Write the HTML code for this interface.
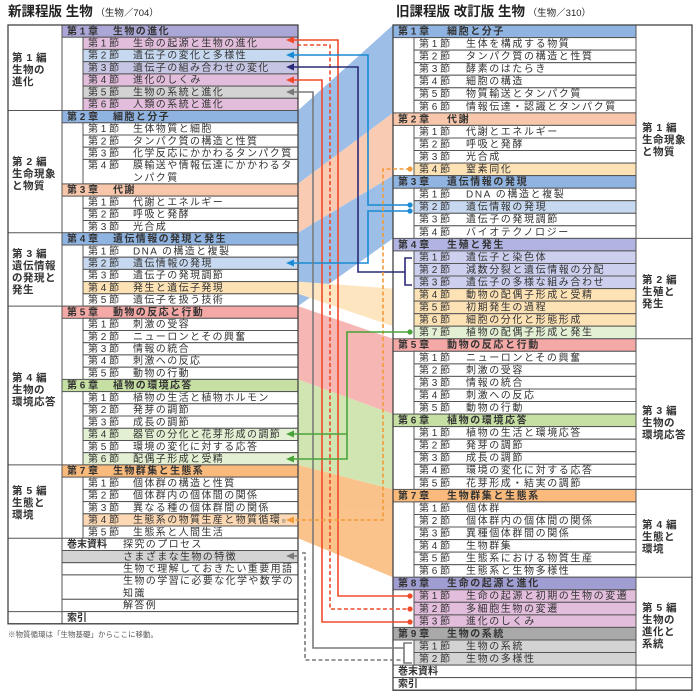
<!DOCTYPE html>
<html><head><meta charset="utf-8"><style>
html,body{margin:0;padding:0;background:#fff;}
svg{display:block;}
text{font-family:"Liberation Sans","Noto Sans CJK JP",sans-serif;fill:#333;}
.t{font-size:10px;letter-spacing:1.4px;}
.rt{font-size:10px;letter-spacing:1.6px;}
.lb{font-size:10px;}
.h{font-weight:bold;}
.k{font-size:10.5px;letter-spacing:0.5px;font-weight:bold;fill:#333;}
.b{stroke:#555;stroke-width:1;}
</style></head><body>
<svg width="700" height="700" viewBox="0 0 700 700" xmlns="http://www.w3.org/2000/svg">
<text x="8" y="16" style="font-size:13.5px;font-weight:bold;fill:#222">新課程版 生物<tspan style="font-size:9.5px;font-weight:normal"> （生物／704）</tspan></text>
<text x="396" y="16" style="font-size:13.5px;font-weight:bold;fill:#222">旧課程版 改訂版 生物<tspan style="font-size:9.5px;font-weight:normal"> （生物／310）</tspan></text>

<g opacity="0.85">
<polygon points="298,110.5 393,25 393,112.9 298,183.9" fill="#8db4e3"/>
<polygon points="298,183.9 393,112.9 393,175.6 298,232.7" fill="#f8c3a6"/>
<polygon points="298,232.7 393,175.6 393,238.4 298,306.1" fill="#8db4e3"/>
<polygon points="298,281.6 393,288.6 393,326.2 298,293.8" fill="#fde2b5"/>
<polygon points="298,306.1 393,338.8 393,414.1 298,379.4" fill="#f4aaa8"/>
<polygon points="298,379.4 393,414.1 393,489.4 298,464.9" fill="#c9e1a5"/>
<polygon points="298,464.9 393,489.4 393,577.2 298,538.2" fill="#f9b877"/>
</g>

<g class="b" fill="#fff">
<rect x="8" y="25" width="290" height="598.8" fill="#fff"/>
<rect x="62" y="25" width="236" height="12.2" fill="#aaa7d6"/>
<rect x="83" y="37.2" width="215" height="12.2" fill="#e2bddc"/>
<rect x="83" y="49.4" width="215" height="12.3" fill="#c7d9f0"/>
<rect x="83" y="61.7" width="215" height="12.2" fill="#c6c6e4"/>
<rect x="83" y="73.9" width="215" height="12.2" fill="#e2bddc"/>
<rect x="83" y="86.1" width="215" height="12.2" fill="#d3d3d3"/>
<rect x="83" y="98.3" width="215" height="12.2" fill="#e2bddc"/>
<rect x="62" y="110.5" width="236" height="12.3" fill="#8fb4e2"/>
<rect x="83" y="122.8" width="215" height="12.2"/>
<rect x="83" y="135.0" width="215" height="12.2"/>
<rect x="83" y="147.2" width="215" height="12.2"/>
<rect x="83" y="159.4" width="215" height="24.5"/>
<rect x="62" y="183.9" width="236" height="12.2" fill="#f8c6aa"/>
<rect x="83" y="196.1" width="215" height="12.2"/>
<rect x="83" y="208.3" width="215" height="12.2"/>
<rect x="83" y="220.5" width="215" height="12.2"/>
<rect x="62" y="232.7" width="236" height="12.3" fill="#8fb4e2"/>
<rect x="83" y="245.0" width="215" height="12.2"/>
<rect x="83" y="257.2" width="215" height="12.2" fill="#c7d9f0"/>
<rect x="83" y="269.4" width="215" height="12.2"/>
<rect x="83" y="281.6" width="215" height="12.2" fill="#fde2b5"/>
<rect x="83" y="293.8" width="215" height="12.3"/>
<rect x="62" y="306.1" width="236" height="12.2" fill="#f5a9a6"/>
<rect x="83" y="318.3" width="215" height="12.2"/>
<rect x="83" y="330.5" width="215" height="12.2"/>
<rect x="83" y="342.7" width="215" height="12.2"/>
<rect x="83" y="354.9" width="215" height="12.3"/>
<rect x="83" y="367.2" width="215" height="12.2"/>
<rect x="62" y="379.4" width="236" height="12.2" fill="#c6e0a3"/>
<rect x="83" y="391.6" width="215" height="12.2"/>
<rect x="83" y="403.8" width="215" height="12.2"/>
<rect x="83" y="416.0" width="215" height="12.3"/>
<rect x="83" y="428.3" width="215" height="12.2" fill="#e3f0d3"/>
<rect x="83" y="440.5" width="215" height="12.2"/>
<rect x="83" y="452.7" width="215" height="12.2" fill="#e3f0d3"/>
<rect x="62" y="464.9" width="236" height="12.2" fill="#f9ba7c"/>
<rect x="83" y="477.1" width="215" height="12.3"/>
<rect x="83" y="489.4" width="215" height="12.2"/>
<rect x="83" y="501.6" width="215" height="12.2"/>
<rect x="83" y="513.8" width="215" height="12.2" fill="#fcd9b4"/>
<rect x="83" y="526.0" width="215" height="12.2"/>
<rect x="62" y="538.2" width="236" height="12.3"/>
<rect x="62" y="550.5" width="236" height="12.2" fill="#d3d3d3"/>
<rect x="62" y="562.7" width="236" height="12.2"/>
<rect x="62" y="574.9" width="236" height="24.4"/>
<rect x="62" y="599.3" width="236" height="12.3"/>
<rect x="62" y="611.6" width="236" height="12.2"/>
<line x1="62" y1="25" x2="62" y2="623.8"/>
<line x1="8" y1="110.5" x2="62" y2="110.5"/>
<line x1="8" y1="232.7" x2="62" y2="232.7"/>
<line x1="8" y1="306.1" x2="62" y2="306.1"/>
<line x1="8" y1="464.9" x2="62" y2="464.9"/>
<line x1="8" y1="538.2" x2="62" y2="538.2"/>
<line x1="8" y1="611.6" x2="62" y2="611.6"/>
</g>
<rect x="8" y="25" width="290" height="598.8" fill="none" stroke="#444" stroke-width="1.3"/>

<g class="k">
<text x="12" y="61">第 1 編</text><text x="12" y="73">生物の</text><text x="12" y="85">進化</text>
<text x="12" y="165">第 2 編</text><text x="12" y="177">生命現象</text><text x="12" y="189">と物質</text>
<text x="12" y="257">第 3 編</text><text x="12" y="269">遺伝情報</text><text x="12" y="281">の発現と</text><text x="12" y="293">発生</text>
<text x="12" y="381">第 4 編</text><text x="12" y="393">生物の</text><text x="12" y="405">環境応答</text>
<text x="12" y="494">第 5 編</text><text x="12" y="506">生態と</text><text x="12" y="518">環境</text>
</g>

<g>
<text x="67" y="34.3" class="lb h">第 1 章</text><text x="113" y="34.3" class="t h">生物の進化</text>
<text x="67" y="119.8" class="lb h">第 2 章</text><text x="113" y="119.8" class="t h">細胞と分子</text>
<text x="67" y="193.2" class="lb h">第 3 章</text><text x="113" y="193.2" class="t h">代謝</text>
<text x="67" y="242" class="lb h">第 4 章</text><text x="113" y="242" class="t h">遺伝情報の発現と発生</text>
<text x="67" y="315.4" class="lb h">第 5 章</text><text x="113" y="315.4" class="t h">動物の反応と行動</text>
<text x="67" y="388.7" class="lb h">第 6 章</text><text x="113" y="388.7" class="t h">植物の環境応答</text>
<text x="67" y="474.2" class="lb h">第 7 章</text><text x="113" y="474.2" class="t h">生物群集と生態系</text>
</g>
<g>
<text x="88" y="46.5" class="lb">第 1 節</text><text x="133" y="46.5" class="t">生命の起源と生物の進化</text>
<text x="88" y="58.7" class="lb">第 2 節</text><text x="133" y="58.7" class="t">遺伝子の変化と多様性</text>
<text x="88" y="71" class="lb">第 3 節</text><text x="133" y="71" class="t">遺伝子の組み合わせの変化</text>
<text x="88" y="83.2" class="lb">第 4 節</text><text x="133" y="83.2" class="t">進化のしくみ</text>
<text x="88" y="95.4" class="lb">第 5 節</text><text x="133" y="95.4" class="t">生物の系統と進化</text>
<text x="88" y="107.6" class="lb">第 6 節</text><text x="133" y="107.6" class="t">人類の系統と進化</text>

<text x="88" y="132.1" class="lb">第 1 節</text><text x="133" y="132.1" class="t">生体物質と細胞</text>
<text x="88" y="144.3" class="lb">第 2 節</text><text x="133" y="144.3" class="t">タンパク質の構造と性質</text>
<text x="88" y="156.5" class="lb">第 3 節</text><text x="133" y="156.5" class="t">化学反応にかかわるタンパク質</text>
<text x="88" y="168.7" class="lb">第 4 節</text><text x="133" y="168.7" class="t">膜輸送や情報伝達にかかわるタ</text><text x="133" y="180.9" class="t">ンパク質</text>

<text x="88" y="205.4" class="lb">第 1 節</text><text x="133" y="205.4" class="t">代謝とエネルギー</text>
<text x="88" y="217.6" class="lb">第 2 節</text><text x="133" y="217.6" class="t">呼吸と発酵</text>
<text x="88" y="229.8" class="lb">第 3 節</text><text x="133" y="229.8" class="t">光合成</text>

<text x="88" y="254.3" class="lb">第 1 節</text><text x="133" y="254.3" class="t">DNA の構造と複製</text>
<text x="88" y="266.5" class="lb">第 2 節</text><text x="133" y="266.5" class="t">遺伝情報の発現</text>
<text x="88" y="278.7" class="lb">第 3 節</text><text x="133" y="278.7" class="t">遺伝子の発現調節</text>
<text x="88" y="290.9" class="lb">第 4 節</text><text x="133" y="290.9" class="t">発生と遺伝子発現</text>
<text x="88" y="303.1" class="lb">第 5 節</text><text x="133" y="303.1" class="t">遺伝子を扱う技術</text>

<text x="88" y="327.6" class="lb">第 1 節</text><text x="133" y="327.6" class="t">刺激の受容</text>
<text x="88" y="339.8" class="lb">第 2 節</text><text x="133" y="339.8" class="t">ニューロンとその興奮</text>
<text x="88" y="352" class="lb">第 3 節</text><text x="133" y="352" class="t">情報の統合</text>
<text x="88" y="364.2" class="lb">第 4 節</text><text x="133" y="364.2" class="t">刺激への反応</text>
<text x="88" y="376.5" class="lb">第 5 節</text><text x="133" y="376.5" class="t">動物の行動</text>

<text x="88" y="400.9" class="lb">第 1 節</text><text x="133" y="400.9" class="t">植物の生活と植物ホルモン</text>
<text x="88" y="413.1" class="lb">第 2 節</text><text x="133" y="413.1" class="t">発芽の調節</text>
<text x="88" y="425.3" class="lb">第 3 節</text><text x="133" y="425.3" class="t">成長の調節</text>
<text x="88" y="437.6" class="lb">第 4 節</text><text x="133" y="437.6" class="t">器官の分化と花芽形成の調節</text>
<text x="88" y="449.8" class="lb">第 5 節</text><text x="133" y="449.8" class="t">環境の変化に対する応答</text>
<text x="88" y="462" class="lb">第 6 節</text><text x="133" y="462" class="t">配偶子形成と受精</text>

<text x="88" y="486.4" class="lb">第 1 節</text><text x="133" y="486.4" class="t">個体群の構造と性質</text>
<text x="88" y="498.7" class="lb">第 2 節</text><text x="133" y="498.7" class="t">個体群内の個体間の関係</text>
<text x="88" y="510.9" class="lb">第 3 節</text><text x="133" y="510.9" class="t">異なる種の個体群間の関係</text>
<text x="88" y="523.1" class="lb">第 4 節</text><text x="133" y="523.1" class="t">生態系の物質生産と物質循環<tspan style="font-size:5px;letter-spacing:0">※</tspan></text>
<text x="88" y="535.3" class="lb">第 5 節</text><text x="133" y="535.3" class="t">生態系と人間生活</text>

<text x="67" y="547.5" class="lb h">巻末資料</text><text x="123" y="547.5" class="t">探究のプロセス</text>
<text x="123" y="559.8" class="t">さまざまな生物の特徴</text>
<text x="123" y="572" class="t">生物で理解しておきたい重要用語</text>
<text x="123" y="584.2" class="t">生物の学習に必要な化学や数学の</text>
<text x="123" y="596.4" class="t">知識</text>
<text x="123" y="608.6" class="t">解答例</text>
<text x="67" y="620.9" class="lb h">索引</text>
</g>
<text x="8" y="637" style="font-size:7.5px;fill:#555">※物質循環は「生物基礎」からここに移動。</text>

<g class="b" fill="#fff">
<rect x="393" y="25" width="299" height="665.2"/>
<rect x="393" y="25" width="243" height="12.6" fill="#8fb4e2"/>
<rect x="414" y="37.6" width="222" height="12.5"/>
<rect x="414" y="50.1" width="222" height="12.6"/>
<rect x="414" y="62.7" width="222" height="12.5"/>
<rect x="414" y="75.2" width="222" height="12.6"/>
<rect x="414" y="87.8" width="222" height="12.5"/>
<rect x="414" y="100.3" width="222" height="12.6"/>
<rect x="393" y="112.9" width="243" height="12.5" fill="#f8c6aa"/>
<rect x="414" y="125.4" width="222" height="12.6"/>
<rect x="414" y="138.0" width="222" height="12.5"/>
<rect x="414" y="150.5" width="222" height="12.6"/>
<rect x="414" y="163.1" width="222" height="12.5" fill="#fde2b5"/>
<rect x="393" y="175.6" width="243" height="12.6" fill="#8fb4e2"/>
<rect x="414" y="188.2" width="222" height="12.5"/>
<rect x="414" y="200.7" width="222" height="12.6" fill="#c7d9f0"/>
<rect x="414" y="213.3" width="222" height="12.5"/>
<rect x="414" y="225.8" width="222" height="12.6"/>
<rect x="393" y="238.4" width="243" height="12.5" fill="#b1b4e2"/>
<rect x="414" y="250.9" width="222" height="12.6" fill="#ccd0ee"/>
<rect x="414" y="263.5" width="222" height="12.5" fill="#ccd0ee"/>
<rect x="414" y="276.0" width="222" height="12.6" fill="#ccd0ee"/>
<rect x="414" y="288.6" width="222" height="12.5" fill="#fde2b5"/>
<rect x="414" y="301.1" width="222" height="12.6" fill="#fde2b5"/>
<rect x="414" y="313.7" width="222" height="12.5" fill="#fde2b5"/>
<rect x="414" y="326.2" width="222" height="12.6" fill="#e3f0d3"/>
<rect x="393" y="338.8" width="243" height="12.5" fill="#f5a9a6"/>
<rect x="414" y="351.3" width="222" height="12.6"/>
<rect x="414" y="363.9" width="222" height="12.5"/>
<rect x="414" y="376.4" width="222" height="12.6"/>
<rect x="414" y="389.0" width="222" height="12.5"/>
<rect x="414" y="401.5" width="222" height="12.6"/>
<rect x="393" y="414.1" width="243" height="12.5" fill="#c6e0a3"/>
<rect x="414" y="426.6" width="222" height="12.6"/>
<rect x="414" y="439.2" width="222" height="12.5"/>
<rect x="414" y="451.7" width="222" height="12.6"/>
<rect x="414" y="464.3" width="222" height="12.5"/>
<rect x="414" y="476.8" width="222" height="12.6"/>
<rect x="393" y="489.4" width="243" height="12.5" fill="#f9ba7c"/>
<rect x="414" y="501.9" width="222" height="12.6"/>
<rect x="414" y="514.5" width="222" height="12.5"/>
<rect x="414" y="527.0" width="222" height="12.6"/>
<rect x="414" y="539.6" width="222" height="12.5"/>
<rect x="414" y="552.1" width="222" height="12.6"/>
<rect x="414" y="564.7" width="222" height="12.5"/>
<rect x="393" y="577.2" width="243" height="12.6" fill="#9f9dd2"/>
<rect x="414" y="589.8" width="222" height="12.5" fill="#e2bddc"/>
<rect x="414" y="602.3" width="222" height="12.6" fill="#e2bddc"/>
<rect x="414" y="614.9" width="222" height="12.5" fill="#e2bddc"/>
<rect x="393" y="627.4" width="243" height="12.6" fill="#a9a9a9"/>
<rect x="414" y="640.0" width="222" height="12.5" fill="#d3d3d3"/>
<rect x="414" y="652.5" width="222" height="12.6" fill="#d3d3d3"/>
<rect x="393" y="665.1" width="243" height="12.5"/>
<rect x="393" y="677.6" width="243" height="12.6"/>
<line x1="636" y1="25" x2="636" y2="690.2"/>
<line x1="636" y1="238.4" x2="692" y2="238.4"/>
<line x1="636" y1="338.8" x2="692" y2="338.8"/>
<line x1="636" y1="489.4" x2="692" y2="489.4"/>
<line x1="636" y1="577.2" x2="692" y2="577.2"/>
<line x1="636" y1="665.1" x2="692" y2="665.1"/>
<line x1="636" y1="677.6" x2="692" y2="677.6"/>
</g>
<rect x="393" y="25" width="299" height="665.2" fill="none" stroke="#444" stroke-width="1.3"/>

<g class="k">
<text x="642" y="131">第 1 編</text><text x="642" y="143">生命現象</text><text x="642" y="155">と物質</text>
<text x="642" y="283">第 2 編</text><text x="642" y="295">生殖と</text><text x="642" y="307">発生</text>
<text x="642" y="414">第 3 編</text><text x="642" y="426">生物の</text><text x="642" y="438">環境応答</text>
<text x="642" y="528">第 4 編</text><text x="642" y="540">生態と</text><text x="642" y="552">環境</text>
<text x="642" y="611">第 5 編</text><text x="642" y="623">生物の</text><text x="642" y="635">進化と</text><text x="642" y="647">系統</text>
</g>

<g>
<text x="398" y="34.5" class="lb h">第 1 章</text><text x="447" y="34.5" class="rt h">細胞と分子</text>
<text x="419" y="47" class="lb">第 1 節</text><text x="466" y="47" class="rt">生体を構成する物質</text>
<text x="419" y="59.6" class="lb">第 2 節</text><text x="466" y="59.6" class="rt">タンパク質の構造と性質</text>
<text x="419" y="72.1" class="lb">第 3 節</text><text x="466" y="72.1" class="rt">酵素のはたらき</text>
<text x="419" y="84.7" class="lb">第 4 節</text><text x="466" y="84.7" class="rt">細胞の構造</text>
<text x="419" y="97.2" class="lb">第 5 節</text><text x="466" y="97.2" class="rt">物質輸送とタンパク質</text>
<text x="419" y="109.8" class="lb">第 6 節</text><text x="466" y="109.8" class="rt">情報伝達・認識とタンパク質</text>

<text x="398" y="122.3" class="lb h">第 2 章</text><text x="447" y="122.3" class="rt h">代謝</text>
<text x="419" y="134.9" class="lb">第 1 節</text><text x="466" y="134.9" class="rt">代謝とエネルギー</text>
<text x="419" y="147.4" class="lb">第 2 節</text><text x="466" y="147.4" class="rt">呼吸と発酵</text>
<text x="419" y="160" class="lb">第 3 節</text><text x="466" y="160" class="rt">光合成</text>
<text x="419" y="172.5" class="lb">第 4 節</text><text x="466" y="172.5" class="rt">窒素同化</text>

<text x="398" y="185.1" class="lb h">第 3 章</text><text x="447" y="185.1" class="rt h">遺伝情報の発現</text>
<text x="419" y="197.6" class="lb">第 1 節</text><text x="466" y="197.6" class="rt">DNA の構造と複製</text>
<text x="419" y="210.2" class="lb">第 2 節</text><text x="466" y="210.2" class="rt">遺伝情報の発現</text>
<text x="419" y="222.7" class="lb">第 3 節</text><text x="466" y="222.7" class="rt">遺伝子の発現調節</text>
<text x="419" y="235.3" class="lb">第 4 節</text><text x="466" y="235.3" class="rt">バイオテクノロジー</text>

<text x="398" y="247.8" class="lb h">第 4 章</text><text x="447" y="247.8" class="rt h">生殖と発生</text>
<text x="419" y="260.4" class="lb">第 1 節</text><text x="466" y="260.4" class="rt">遺伝子と染色体</text>
<text x="419" y="272.9" class="lb">第 2 節</text><text x="466" y="272.9" class="rt">減数分裂と遺伝情報の分配</text>
<text x="419" y="285.5" class="lb">第 3 節</text><text x="466" y="285.5" class="rt">遺伝子の多様な組み合わせ</text>
<text x="419" y="298" class="lb">第 4 節</text><text x="466" y="298" class="rt">動物の配偶子形成と受精</text>
<text x="419" y="310.6" class="lb">第 5 節</text><text x="466" y="310.6" class="rt">初期発生の過程</text>
<text x="419" y="323.1" class="lb">第 6 節</text><text x="466" y="323.1" class="rt">細胞の分化と形態形成</text>
<text x="419" y="335.7" class="lb">第 7 節</text><text x="466" y="335.7" class="rt">植物の配偶子形成と発生</text>

<text x="398" y="348.2" class="lb h">第 5 章</text><text x="447" y="348.2" class="rt h">動物の反応と行動</text>
<text x="419" y="360.8" class="lb">第 1 節</text><text x="466" y="360.8" class="rt">ニューロンとその興奮</text>
<text x="419" y="373.3" class="lb">第 2 節</text><text x="466" y="373.3" class="rt">刺激の受容</text>
<text x="419" y="385.9" class="lb">第 3 節</text><text x="466" y="385.9" class="rt">情報の統合</text>
<text x="419" y="398.4" class="lb">第 4 節</text><text x="466" y="398.4" class="rt">刺激への反応</text>
<text x="419" y="411" class="lb">第 5 節</text><text x="466" y="411" class="rt">動物の行動</text>

<text x="398" y="423.5" class="lb h">第 6 章</text><text x="447" y="423.5" class="rt h">植物の環境応答</text>
<text x="419" y="436.1" class="lb">第 1 節</text><text x="466" y="436.1" class="rt">植物の生活と環境応答</text>
<text x="419" y="448.6" class="lb">第 2 節</text><text x="466" y="448.6" class="rt">発芽の調節</text>
<text x="419" y="461.2" class="lb">第 3 節</text><text x="466" y="461.2" class="rt">成長の調節</text>
<text x="419" y="473.7" class="lb">第 4 節</text><text x="466" y="473.7" class="rt">環境の変化に対する応答</text>
<text x="419" y="486.3" class="lb">第 5 節</text><text x="466" y="486.3" class="rt">花芽形成・結実の調節</text>

<text x="398" y="498.8" class="lb h">第 7 章</text><text x="447" y="498.8" class="rt h">生物群集と生態系</text>
<text x="419" y="511.4" class="lb">第 1 節</text><text x="466" y="511.4" class="rt">個体群</text>
<text x="419" y="523.9" class="lb">第 2 節</text><text x="466" y="523.9" class="rt">個体群内の個体間の関係</text>
<text x="419" y="536.5" class="lb">第 3 節</text><text x="466" y="536.5" class="rt">異種個体群間の関係</text>
<text x="419" y="549" class="lb">第 4 節</text><text x="466" y="549" class="rt">生物群集</text>
<text x="419" y="561.6" class="lb">第 5 節</text><text x="466" y="561.6" class="rt">生態系における物質生産</text>
<text x="419" y="574.1" class="lb">第 6 節</text><text x="466" y="574.1" class="rt">生態系と生物多様性</text>

<text x="398" y="586.7" class="lb h">第 8 章</text><text x="447" y="586.7" class="rt h">生命の起源と進化</text>
<text x="419" y="599.2" class="lb">第 1 節</text><text x="466" y="599.2" class="rt">生命の起源と初期の生物の変遷</text>
<text x="419" y="611.8" class="lb">第 2 節</text><text x="466" y="611.8" class="rt">多細胞生物の変遷</text>
<text x="419" y="624.3" class="lb">第 3 節</text><text x="466" y="624.3" class="rt">進化のしくみ</text>

<text x="398" y="636.9" class="lb h">第 9 章</text><text x="447" y="636.9" class="rt h">生物の系統</text>
<text x="419" y="649.4" class="lb">第 1 節</text><text x="466" y="649.4" class="rt">生物の系統</text>
<text x="419" y="662" class="lb">第 2 節</text><text x="466" y="662" class="rt">生物の多様性</text>

<text x="398" y="674.5" class="lb h">巻末資料</text>
<text x="398" y="687.1" class="lb h">索引</text>
</g>

<g fill="none" stroke-width="1.6">
<path d="M292 40 H338 V596 H410" stroke="#f04a2a"/>
<path d="M297 45 H330 V609 H410" stroke="#f04a2a" stroke-dasharray="4,2.5"/>
<path d="M292 80 H322 V622 H410" stroke="#f04a2a"/>
<path d="M292 55 H368 V205 H410" stroke="#1a8ad4"/>
<path d="M410 211 H368 V263 H292" stroke="#1a8ad4"/>
<path d="M292 67 H358 V272 H405" stroke="#2a2a78"/>
<path d="M412 258 H405 V285 H412" stroke="#2a2a78"/>
<path d="M292 92 H313 V648 H404" stroke="#7a7a7a"/>
<path d="M302 553 H305 V660 H404" stroke="#7a7a7a" stroke-dasharray="4,2.5"/>
<path d="M412 643 H404 V663 H412" stroke="#7a7a7a"/>
<path d="M292 556 H297" stroke="#7a7a7a"/>
<path d="M410 169 H383 V520 H292" stroke="#f39a3a" stroke-dasharray="4,2.5"/>
<path d="M410 332 H347 V459 H292" stroke="#4aa33a"/>
<path d="M347 434 H292" stroke="#4aa33a"/>
</g>
<g>
<polygon points="286,40 294,36.5 294,43.5" fill="#f04a2a"/>
<polygon points="286,80 294,76.5 294,83.5" fill="#f04a2a"/>
<polygon points="286,55 294,51.5 294,58.5" fill="#1a8ad4"/>
<polygon points="286,263 294,259.5 294,266.5" fill="#1a8ad4"/>
<polygon points="286,67 294,63.5 294,70.5" fill="#2a2a78"/>
<polygon points="286,92 294,88.5 294,95.5" fill="#7a7a7a"/>
<polygon points="286,556 294,552.5 294,559.5" fill="#7a7a7a"/>
<polygon points="286,520 294,516.5 294,523.5" fill="#f39a3a"/>
<polygon points="286,434 294,430.5 294,437.5" fill="#4aa33a"/>
<polygon points="286,459 294,455.5 294,462.5" fill="#4aa33a"/>
<circle cx="410" cy="596" r="2.6" fill="#f04a2a"/>
<circle cx="410" cy="609" r="2.6" fill="#f04a2a"/>
<circle cx="410" cy="622" r="2.6" fill="#f04a2a"/>
<circle cx="410" cy="205" r="2.6" fill="#1a8ad4"/>
<circle cx="410" cy="211" r="2.6" fill="#1a8ad4"/>
<circle cx="410" cy="169" r="2.6" fill="#f39a3a"/>
<circle cx="410" cy="332" r="2.6" fill="#4aa33a"/>
</g>
</svg>
</body></html>
